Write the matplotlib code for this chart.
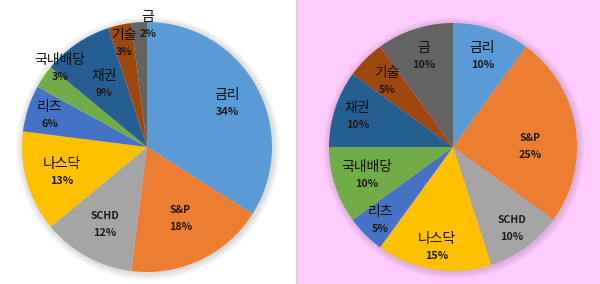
import numpy as np
import matplotlib
matplotlib.use('Agg')
import matplotlib.pyplot as plt
from matplotlib.patches import Circle, Rectangle

plt.rcParams['font.family'] = ['Noto Sans CJK KR', 'DejaVu Sans']

# categories and values
names = ['금리', 'S&P', 'SCHD', '나스닥', '리츠', '국내배당', '채권', '기술', '금']
left_values = [34, 18, 12, 13, 6, 3, 9, 3, 2]
right_values = [10, 25, 10, 15, 5, 10, 10, 5, 10]

colors = ['#5B9BD5', '#ED7D31', '#A5A5A5', '#FFC000', '#4472C4',
          '#70AD47', '#255E91', '#9E480E', '#636363']

# label placement (fraction of radius, clockwise angle shift in degrees)
left_dist = [0.73, 0.63, 0.70, 0.71, 0.82, 0.94, 0.61, 0.85, 0.975]
left_shift = [0, 0, 0, 0, 0, 8, 0, 0, 4]
right_dist = [0.77, 0.62, 0.81, 0.82, 0.83, 0.73, 0.81, 0.75, 0.77]
right_shift = [0, 8, 0, 0, 0, 0, 0, 0, 0]

fig = plt.figure(figsize=(6, 2.84), dpi=100)
ax = fig.add_axes([0, 0, 1, 1])

# panel backgrounds
ax.add_patch(Rectangle((0, 0), 296, 284, color='white', zorder=0))
ax.add_patch(Rectangle((296, 0), 2, 284, color='#D4D4D4', zorder=0))
ax.add_patch(Rectangle((298, 0), 302, 284, color='#FFCCFF', zorder=0))


def draw_pie(values, cx, cy, r, dist, shift):
    # soft shadow
    for k in range(7, 0, -1):
        ax.add_patch(Circle((cx + 1, cy - 1), r + k, color='black',
                            alpha=0.02, lw=0, zorder=1))
    wedges, _ = ax.pie(values, colors=colors, startangle=90, counterclock=False,
                       center=(cx, cy), radius=r, frame=True,
                       wedgeprops=dict(linewidth=0))
    for w in wedges:
        w.set_zorder(2)
    for w, name, v, d, s in zip(wedges, names, values, dist, shift):
        ang = np.deg2rad((w.theta1 + w.theta2) / 2 - s)
        x = cx + d * r * np.cos(ang)
        y = cy + d * r * np.sin(ang)
        if name in ('S&P', 'SCHD'):
            ax.text(x, y + 8, name, ha='center', va='center', fontsize=7.5,
                    fontweight='bold', color='#1a1a1a', zorder=3)
        else:
            ax.text(x, y + 8, name, ha='center', va='center', fontsize=10,
                    color='#111111', zorder=3)
        ax.text(x, y - 9, f'{v}%', ha='center', va='center', fontsize=7.8,
                fontweight='bold', color='#1a1a1a', zorder=3)


draw_pie(left_values, 147, 137, 125, left_dist, left_shift)
draw_pie(right_values, 453, 137, 124, right_dist, right_shift)

ax.set_xlim(0, 600)
ax.set_ylim(0, 284)
ax.set_aspect('auto')
ax.axis('off')

fig.savefig('out.png', dpi=100)
